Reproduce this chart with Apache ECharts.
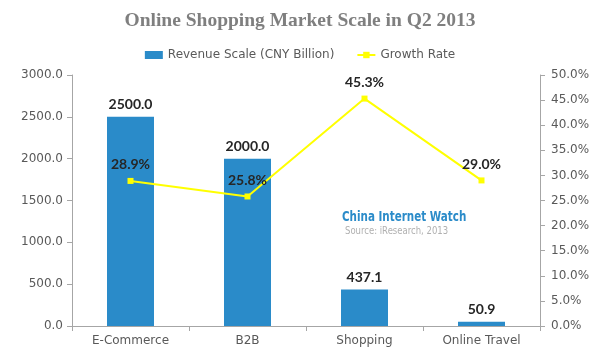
<!DOCTYPE html>
<html><head><meta charset="utf-8">
<script src="https://cdn.jsdelivr.net/npm/echarts@6/dist/echarts.min.js"></script>
<style>html,body{margin:0;padding:0;background:#fff}#c{width:600px;height:353px}</style>
</head><body><div id="c"></div>
<script>
const categories = ["E-Commerce", "B2B", "Shopping", "Online Travel"];
const revenue = [2500.0, 2000.0, 437.1, 50.9];
const growth = [28.9, 25.8, 45.3, 29.0];
const title = "Online Shopping Market Scale in Q2 2013";
const watermark = "China Internet Watch";
const source = "Source: iResearch, 2013";

const chart = echarts.init(document.getElementById('c'));
const axisFont = {color: '#595959', fontSize: 12, fontFamily: 'DejaVu Sans'};
const labelFont = {color: '#262626', fontWeight: 'bold', fontSize: 14, fontFamily: 'Lato'};
chart.setOption({
  animation: false,
  title: {text: title, left: 'center', top: 6,
    textStyle: {fontFamily: 'Liberation Serif', fontWeight: 'bold', fontSize: 19.5, color: '#7f7f7f'}},
  legend: {top: 44, left: 'center', itemGap: 22, itemWidth: 18, itemHeight: 8,
    textStyle: {color: '#595959', fontSize: 12, fontFamily: 'DejaVu Sans'},
    data: [{name: 'Revenue Scale (CNY Billion)', icon: 'rect'}, {name: 'Growth Rate'}]},
  grid: {left: 72, right: 60, top: 75, bottom: 27},
  xAxis: {type: 'category', data: categories,
    axisLine: {lineStyle: {color: '#a6a6a6'}},
    axisTick: {show: true, alignWithLabel: false, lineStyle: {color: '#a6a6a6'}},
    axisLabel: Object.assign({margin: 9}, axisFont)},
  yAxis: [
    {type: 'value', min: 0, max: 3000, interval: 500, splitLine: {show: false},
     axisLine: {show: true, lineStyle: {color: '#a6a6a6'}}, axisTick: {show: true, lineStyle: {color: '#a6a6a6'}},
     axisLabel: Object.assign({formatter: v => v.toFixed(1), margin: 9}, axisFont)},
    {type: 'value', min: 0, max: 50, interval: 5, splitLine: {show: false},
     axisLine: {show: true, lineStyle: {color: '#a6a6a6'}}, axisTick: {show: true, lineStyle: {color: '#a6a6a6'}},
     axisLabel: Object.assign({formatter: v => v.toFixed(1) + '%', margin: 11}, axisFont)}
  ],
  series: [
    {name: 'Revenue Scale (CNY Billion)', type: 'bar', data: revenue, barWidth: 47,
     itemStyle: {color: '#2a8bc9'},
     label: Object.assign({show: true, position: 'top', distance: 5, formatter: p => p.value.toFixed(1)}, labelFont)},
    {name: 'Growth Rate', type: 'line', yAxisIndex: 1, data: growth,
     symbol: 'rect', symbolSize: 6, itemStyle: {color: '#ffff00'}, lineStyle: {color: '#ffff00', width: 2},
     label: Object.assign({show: true, position: 'top', distance: 6, formatter: p => p.value.toFixed(1) + '%'}, labelFont)}
  ],
  graphic: [
    {type: 'text', x: 342, y: 210, scaleX: 0.74, style: {text: watermark, fill: '#2a8bc9', font: 'bold 14px "DejaVu Sans"'}},
    {type: 'text', x: 345, y: 226, scaleX: 0.85, style: {text: source, fill: '#b0b0b0', font: '10px "DejaVu Sans"'}}
  ]
});
</script></body></html>
